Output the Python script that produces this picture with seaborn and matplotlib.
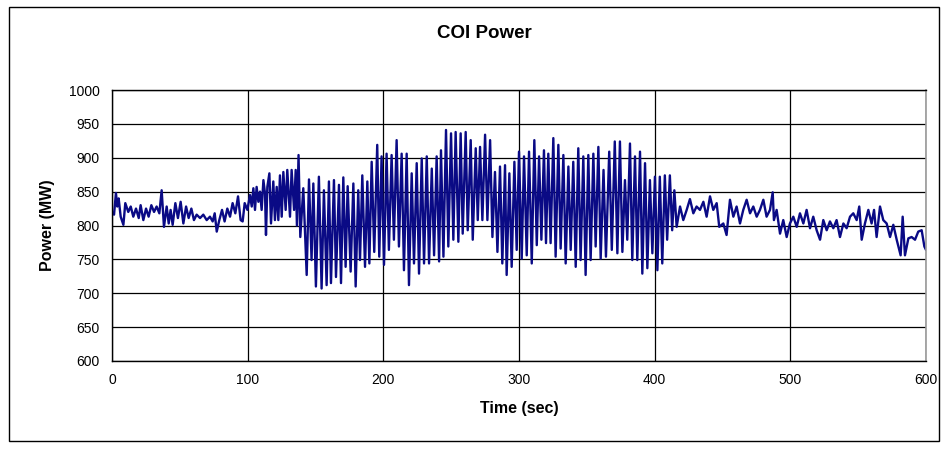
import numpy as np
import pandas as pd
import matplotlib
matplotlib.use("Agg")
import matplotlib.pyplot as plt
from matplotlib.patches import Rectangle
import seaborn as sns

# ---- data (time in s, power in MW) ----
t_pre = [0.0, 1.5, 2.9, 3.9, 4.9, 6.4, 8.4, 9.8, 12.0, 13.8, 15.7, 17.7, 19.7, 21.1,
         23.1, 25.1, 27.0, 29.0, 31.0, 32.9, 34.9, 36.6, 38.3, 40.3, 41.8, 43.2, 44.7,
         46.7, 48.6, 50.6, 52.6, 54.6, 56.5, 58.5, 60.4, 62.4, 64.9, 67.3, 69.8, 72.2,
         74.2, 75.7, 77.2, 79.1, 81.1, 83.0, 85.0, 87.0, 88.9, 90.9, 92.9, 94.8, 96.3,
         97.8, 99.8]
p_pre = [820, 816, 848, 828, 840, 813, 801, 833, 820, 828, 813, 825, 811, 830,
         808, 825, 813, 830, 820, 828, 818, 852, 798, 828, 803, 823, 801,
         833, 811, 835, 803, 828, 811, 825, 808, 816, 811, 816, 808, 813,
         806, 818, 791, 808, 823, 806, 825, 813, 833, 818, 843, 808, 806,
         833, 823]

t_build = [101.7, 103.0, 104.2, 105.4, 106.6, 107.9, 109.1, 110.3, 111.6, 112.8,
           113.5, 114.5, 116.0, 117.2, 118.9, 120.1, 121.4, 122.6, 123.8, 125.1,
           126.3, 128.0, 129.2, 131.2, 132.4, 134.2, 135.4, 136.3]
p_build = [845, 828, 855, 823, 857, 835, 850, 823, 867, 847,
           786, 857, 877, 803, 865, 808, 857, 808, 874, 813,
           879, 823, 882, 813, 882, 823, 882, 800]

t_osc = [137.5, 138.8, 141.0, 143.5, 145.2, 147.1, 148.4, 150.3, 152.5, 154.5,
         156.2, 158.2, 159.9, 161.4, 163.6, 165.1, 167.3, 168.8, 170.5, 172.2,
         173.7, 175.9, 177.9, 179.6, 181.5, 182.8, 184.5, 186.5, 188.2, 189.7,
         191.4, 193.3, 195.5, 197.0, 198.7, 200.5, 202.4, 204.1, 206.1, 207.8,
         209.8, 211.5, 213.5, 215.2, 217.2, 218.9, 220.9, 222.6, 224.6, 226.3,
         228.3, 230.0, 232.0, 233.7, 235.7, 237.4, 239.3, 241.1, 242.5, 244.3,
         246.2, 247.9, 249.9, 251.6, 253.3, 255.3, 257.0, 258.5, 260.7, 262.2,
         264.4, 265.9, 268.1, 269.6, 271.3, 273.0, 275.0, 276.7, 278.7, 280.4,
         282.3, 284.1, 286.0, 287.7, 289.7, 290.9, 292.9, 294.6, 296.6, 298.3,
         300.0, 302.0, 303.7, 305.7, 307.4, 309.4, 311.3, 313.1, 314.8, 316.5,
         318.4, 319.9, 321.6, 323.3, 325.3, 327.0, 329.0, 330.7, 332.7, 334.4,
         336.4, 338.1, 340.0, 341.8, 343.7, 345.4, 347.4, 349.1, 351.1, 352.8,
         354.8, 356.5, 358.5, 360.2, 362.3, 364.1, 366.5, 368.4, 370.6, 372.5,
         374.4, 376.2, 378.1, 379.8, 381.8, 383.5, 385.5, 387.2, 389.2, 390.9,
         392.9, 394.6, 396.5, 398.3, 400.2, 402.0, 403.8, 405.6, 407.5, 409.2,
         411.2, 412.9, 414.5, 416.2]
p_osc = [904, 783, 855, 727, 868, 749, 862, 710, 872, 707,
         852, 712, 865, 715, 867, 724, 860, 715, 871, 739,
         858, 732, 862, 710, 852, 749, 874, 739, 865, 744,
         894, 761, 919, 754, 902, 742, 906, 764, 904, 779,
         926, 769, 906, 734, 906, 712, 877, 744, 892, 729,
         899, 744, 902, 744, 884, 756, 902, 747, 911, 754,
         941, 769, 936, 779, 938, 776, 936, 788, 938, 793,
         926, 779, 914, 808, 916, 808, 934, 808, 926, 783,
         879, 761, 887, 744, 889, 727, 877, 739, 894, 764,
         909, 751, 902, 756, 909, 744, 926, 771, 902, 779,
         911, 774, 906, 774, 929, 754, 919, 766, 904, 744,
         887, 764, 894, 739, 914, 749, 902, 727, 904, 749,
         906, 769, 916, 751, 882, 754, 909, 764, 924, 759,
         924, 761, 867, 779, 921, 749, 902, 749, 909, 729,
         892, 737, 867, 759, 872, 734, 872, 744, 874, 779,
         874, 793, 852, 798]

t_post = [418.7, 421.1, 423.6, 426.0, 428.5, 430.9, 433.4, 435.9, 438.3, 440.8,
          443.2, 445.7, 447.6, 450.6, 453.0, 455.5, 458.0, 460.4, 462.9, 465.3,
          467.8, 470.3, 472.7, 475.2, 477.6, 480.1, 482.5, 485.0, 487.0, 487.9,
          489.9, 492.4, 494.8, 497.3, 499.7, 502.2, 504.7, 507.1, 509.6, 512.0,
          514.5, 516.9, 519.4, 521.9, 524.3, 526.8, 529.2, 531.7, 534.1, 536.6,
          539.1, 541.5, 544.0, 546.4, 548.9, 550.8, 552.6, 555.0, 557.5, 559.9,
          561.7, 563.6, 566.1, 568.5, 571.0, 573.5, 575.9, 578.4, 581.3, 582.8,
          584.5, 587.0, 589.4, 591.9, 594.3, 596.8, 598.8, 600.0]
p_post = [828, 808, 823, 839, 818, 828, 823, 835, 813, 843,
          823, 833, 798, 803, 786, 838, 813, 828, 803, 823,
          838, 818, 828, 813, 823, 838, 813, 823, 849, 808,
          823, 788, 808, 783, 803, 813, 798, 818, 803, 823,
          796, 813, 793, 779, 808, 793, 806, 796, 808, 783,
          803, 796, 813, 818, 808, 828, 779, 803, 823, 803,
          823, 783, 828, 808, 803, 783, 801, 779, 756, 813,
          756, 781, 783, 779, 791, 793, 769, 764]

x_ticks = [0, 100, 200, 300, 400, 500, 600]
y_ticks = [600, 650, 700, 750, 800, 850, 900, 950, 1000]

df = pd.DataFrame({
    "Time (sec)": t_pre + t_build + t_osc + t_post,
    "Power (MW)": p_pre + p_build + p_osc + p_post,
})

sns.set_theme(style="white")
plt.rcParams["font.family"] = ["Liberation Sans", "DejaVu Sans"]
plt.rcParams["text.color"] = "black"
plt.rcParams["axes.labelcolor"] = "black"

fig = plt.figure(figsize=(9.48, 4.5), dpi=100)
ax = fig.add_axes([112 / 948, 1 - 361 / 450, 814 / 948, 271 / 450])

sns.lineplot(data=df, x="Time (sec)", y="Power (MW)", ax=ax, color="#0a0a85",
             linewidth=1.7, estimator=None, sort=False)

ax.set_xlim(0, 600)
ax.set_ylim(600, 1000)
ax.set_xticks(x_ticks)
ax.set_yticks(y_ticks)
ax.grid(True, color="black", linewidth=0.9)
ax.set_axisbelow(True)
ax.tick_params(axis="both", direction="out", length=5, width=1, color="black",
               labelsize=10, labelcolor="black", pad=4)
for s in ["left", "bottom", "top"]:
    ax.spines[s].set_color("black")
    ax.spines[s].set_linewidth(1.0)
ax.spines["right"].set_color("#999999")
ax.spines["right"].set_linewidth(1.2)

ax.set_xlabel("Time (sec)", fontsize=11.5, fontweight="bold", labelpad=10,
              color="black")
ax.set_ylabel("Power (MW)", fontsize=11.5, fontweight="bold", labelpad=10,
              color="black")

fig.text(484 / 948, 1 - 33 / 450, "COI Power", ha="center", va="center",
         fontsize=13.5, fontweight="bold", color="black")

fig.patches.append(Rectangle((9 / 948, 1 - 441 / 450), 930 / 948, 434 / 450,
                             transform=fig.transFigure, fill=False,
                             edgecolor="black", linewidth=1.0))

fig.savefig("out.png", dpi=100)
